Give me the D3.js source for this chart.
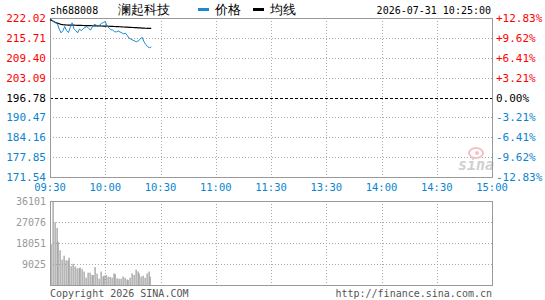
<!DOCTYPE html>
<html lang="zh">
<head>
    <meta charset="UTF-8">
    <title>澜起科技 分时</title>
    <style>
        body{ margin: 0; background-color: #fff; }
        svg{ display: block; background-color: #fff; }
        text{ font-family: "DejaVu Sans Mono", monospace; }
    </style>
</head>
<body>
<div id="chart"></div>
<script src="https://cdn.jsdelivr.net/npm/d3@7/dist/d3.min.js"></script>
<script>
    var width = 545, height = 300;
    var left = 50, right = 492;

    // price per minute from 09:30 to 10:25
    var prices = [221.9, 221.5, 220.8, 220.5, 220.2, 218.5, 217.3, 218.0, 219.3, 218.0,
                  217.4, 219.0, 220.5, 218.6, 218.0, 217.3, 218.5, 218.0, 218.6, 219.0,
                  219.3, 218.7, 218.2, 219.2, 220.0, 219.8, 219.4, 219.8, 220.3, 220.6,
                  220.9, 219.4, 218.9, 218.3, 218.2, 217.7, 217.6, 217.9, 217.6, 217.3,
                  217.0, 217.2, 216.4, 215.6, 215.3, 215.0, 214.7, 214.5, 214.8, 215.3,
                  215.9, 214.5, 213.6, 212.9, 212.6, 212.8];
    var avgPrices = [221.5, 221.2, 220.9, 220.6, 220.4, 220.2, 220.0, 219.9, 219.85, 219.8,
                     219.78, 219.76, 219.75, 219.73, 219.72, 219.7, 219.68, 219.66, 219.64, 219.62,
                     219.6, 219.58, 219.57, 219.56, 219.55, 219.54, 219.52, 219.5, 219.48, 219.47,
                     219.45, 219.42, 219.4, 219.37, 219.35, 219.32, 219.3, 219.27, 219.24, 219.2,
                     219.17, 219.14, 219.1, 219.07, 219.04, 219.0, 218.97, 218.94, 218.9, 218.86,
                     218.83, 218.8, 218.77, 218.74, 218.72, 218.7];
    var volumes = [17600, 36000, 27000, 24500, 18600, 14900, 10900, 12600, 10600, 10600,
                   11700, 8100, 9100, 8000, 7200, 7200, 7500, 6800, 5800, 3200,
                   5300, 5300, 4300, 4300, 7700, 4900, 2700, 5800, 3700, 4000,
                   4300, 3600, 3500, 3200, 5000, 4700, 2900, 2700, 2700, 3600,
                   3100, 2400, 2100, 3100, 5000, 4300, 6600, 5800, 5000, 3600,
                   4000, 3100, 5000, 5800, 3600];

    var priceTicks = [222.02, 215.71, 209.40, 203.09, 196.78, 190.47, 184.16, 177.85, 171.54];
    var pctLabels = ["+12.83%", "+9.62%", "+6.41%", "+3.21%", "0.00%", "-3.21%", "-6.41%", "-9.62%", "-12.83%"];
    var volTicks = [36101, 27076, 18051, 9025];
    var timeTicks = [0, 30, 60, 90, 120, 150, 180, 210, 240];
    var timeLabels = ["09:30", "10:00", "10:30", "11:00", "11:30", "13:30", "14:00", "14:30", "15:00"];
    var prevClose = 196.78;

    var red = '#ff0000', blue = '#0a84d0', gray = '#999';

    var svg = d3.select('#chart')
        .append('svg')
        .attr('width', width)
        .attr('height', height);

    var xScale = d3.scaleLinear().domain([0, 240]).range([left, right]);
    var yScale = d3.scaleLinear().domain([171.54, 222.02]).range([177, 18]);
    var vScale = d3.scaleLinear().domain([0, 36101]).range([285, 201]);

    function labelColor(v){
        if (Math.abs(v - prevClose) < 0.001) return '#000';
        return v > prevClose ? red : blue;
    }

    // gridlines price panel
    svg.selectAll('.hgrid')
        .data(priceTicks.slice(1, -1))
        .enter()
        .append('line')
        .attr('x1', left).attr('x2', right)
        .attr('y1', function(d){ return Math.round(yScale(d)) + 0.5; })
        .attr('y2', function(d){ return Math.round(yScale(d)) + 0.5; })
        .attr('stroke', function(d){ return d === prevClose ? '#000' : '#aaa'; })
        .attr('stroke-dasharray', function(d){ return d === prevClose ? '3,2' : '1,2'; });

    svg.selectAll('.vgrid')
        .data(timeTicks.slice(1, -1))
        .enter()
        .append('line')
        .attr('x1', function(d){ return Math.round(xScale(d)) + 0.5; })
        .attr('x2', function(d){ return Math.round(xScale(d)) + 0.5; })
        .attr('y1', yScale(222.02)).attr('y2', yScale(171.54))
        .attr('stroke', '#aaa')
        .attr('stroke-dasharray', '1,2');

    // volume panel gridlines
    svg.selectAll('.vhgrid')
        .data(volTicks.slice(1))
        .enter()
        .append('line')
        .attr('x1', left).attr('x2', right)
        .attr('y1', function(d){ return Math.round(vScale(d)) + 0.5; })
        .attr('y2', function(d){ return Math.round(vScale(d)) + 0.5; })
        .attr('stroke', '#aaa')
        .attr('stroke-dasharray', '1,2');

    svg.selectAll('.vvgrid')
        .data(timeTicks.slice(1, -1))
        .enter()
        .append('line')
        .attr('x1', function(d){ return Math.round(xScale(d)) + 0.5; })
        .attr('x2', function(d){ return Math.round(xScale(d)) + 0.5; })
        .attr('y1', vScale(36101)).attr('y2', vScale(0))
        .attr('stroke', '#aaa')
        .attr('stroke-dasharray', '1,2');

    // sina watermark
    var wm = svg.append('g').attr('transform', 'translate(458,150)');
    wm.append('ellipse').attr('cx', 18).attr('cy', 3).attr('rx', 7).attr('ry', 5)
        .attr('fill', 'none').attr('stroke', '#f4c0c0').attr('stroke-width', 2);
    wm.append('circle').attr('cx', 19).attr('cy', 3).attr('r', 2).attr('fill', '#f4c0c0');
    wm.append('text').attr('x', 0).attr('y', 20)
        .attr('font-family', 'Verdana, "DejaVu Sans", sans-serif')
        .attr('font-style', 'italic').attr('font-weight', 'bold')
        .attr('font-size', '15px').attr('fill', '#d0d0d0')
        .text('sina');

    // volume bars
    svg.selectAll('.bar')
        .data(volumes)
        .enter()
        .append('rect')
        .attr('x', function(d, i){ return Math.round(xScale(i)) + 0.5; })
        .attr('width', 1.2)
        .attr('y', function(d){ return vScale(d); })
        .attr('height', function(d){ return vScale(0) - vScale(d); })
        .attr('fill', gray);

    // frames
    svg.append('rect')
        .attr('x', left + 0.5).attr('y', 18.5)
        .attr('width', right - left).attr('height', 159)
        .attr('fill', 'none').attr('stroke', gray);
    svg.append('rect')
        .attr('x', left + 0.5).attr('y', 201.5)
        .attr('width', right - left).attr('height', 84)
        .attr('fill', 'none').attr('stroke', gray);

    // lines
    var line = d3.line()
        .x(function(d, i){ return xScale(i); })
        .y(function(d){ return yScale(d); });

    svg.append('path').datum(avgPrices)
        .attr('d', line).attr('fill', 'none')
        .attr('stroke', '#000').attr('stroke-width', 1.2);
    svg.append('path').datum(prices)
        .attr('d', line).attr('fill', 'none')
        .attr('stroke', '#1a88d2').attr('stroke-width', 1);

    // left price labels
    svg.selectAll('.plabel')
        .data(priceTicks)
        .enter()
        .append('text')
        .attr('x', 46)
        .attr('y', function(d){ return yScale(d) + 4; })
        .attr('text-anchor', 'end')
        .attr('font-size', '11px')
        .attr('fill', labelColor)
        .text(function(d){ return d.toFixed(2); });

    // right pct labels
    svg.selectAll('.rlabel')
        .data(priceTicks)
        .enter()
        .append('text')
        .attr('x', 496)
        .attr('y', function(d){ return yScale(d) + 4; })
        .attr('font-size', '11px')
        .attr('fill', labelColor)
        .text(function(d, i){ return pctLabels[i]; });

    // time labels
    svg.selectAll('.tlabel')
        .data(timeTicks)
        .enter()
        .append('text')
        .attr('x', function(d){ return xScale(d); })
        .attr('y', 191)
        .attr('text-anchor', 'middle')
        .attr('font-size', '10.5px')
        .attr('fill', blue)
        .text(function(d, i){ return timeLabels[i]; });

    // volume labels
    svg.selectAll('.vlabel')
        .data(volTicks)
        .enter()
        .append('text')
        .attr('x', 46)
        .attr('y', function(d){ return vScale(d) + 4; })
        .attr('text-anchor', 'end')
        .attr('font-size', '10px')
        .attr('fill', gray)
        .text(function(d){ return d; });

    // header
    svg.append('text').attr('x', 50).attr('y', 14)
        .attr('font-size', '10px').attr('fill', '#000').text('sh688008');
    svg.append('text').attr('x', 118).attr('y', 14)
        .attr('font-family', '"Noto Sans CJK SC", sans-serif')
        .attr('font-size', '12.5px').attr('fill', '#000').text('澜起科技');
    svg.append('line').attr('x1', 198).attr('x2', 209).attr('y1', 9.5).attr('y2', 9.5)
        .attr('stroke', '#1a88d2').attr('stroke-width', 3);
    svg.append('text').attr('x', 215).attr('y', 14)
        .attr('font-family', '"Noto Sans CJK SC", sans-serif')
        .attr('font-size', '12.5px').attr('fill', '#000').text('价格');
    svg.append('line').attr('x1', 253).attr('x2', 264).attr('y1', 9.5).attr('y2', 9.5)
        .attr('stroke', '#000').attr('stroke-width', 3);
    svg.append('text').attr('x', 270).attr('y', 14)
        .attr('font-family', '"Noto Sans CJK SC", sans-serif')
        .attr('font-size', '12.5px').attr('fill', '#000').text('均线');
    svg.append('text').attr('x', 491).attr('y', 14)
        .attr('text-anchor', 'end')
        .attr('font-size', '10px').attr('fill', '#000').text('2026-07-31 10:25:00');

    // footer
    svg.append('text').attr('x', 50).attr('y', 297)
        .attr('font-size', '10px').attr('fill', '#555').text('Copyright 2026 SINA.COM');
    svg.append('text').attr('x', 492).attr('y', 297)
        .attr('text-anchor', 'end')
        .attr('font-size', '10px').attr('fill', '#555').text('http://finance.sina.com.cn');
</script>
</body>
</html>
